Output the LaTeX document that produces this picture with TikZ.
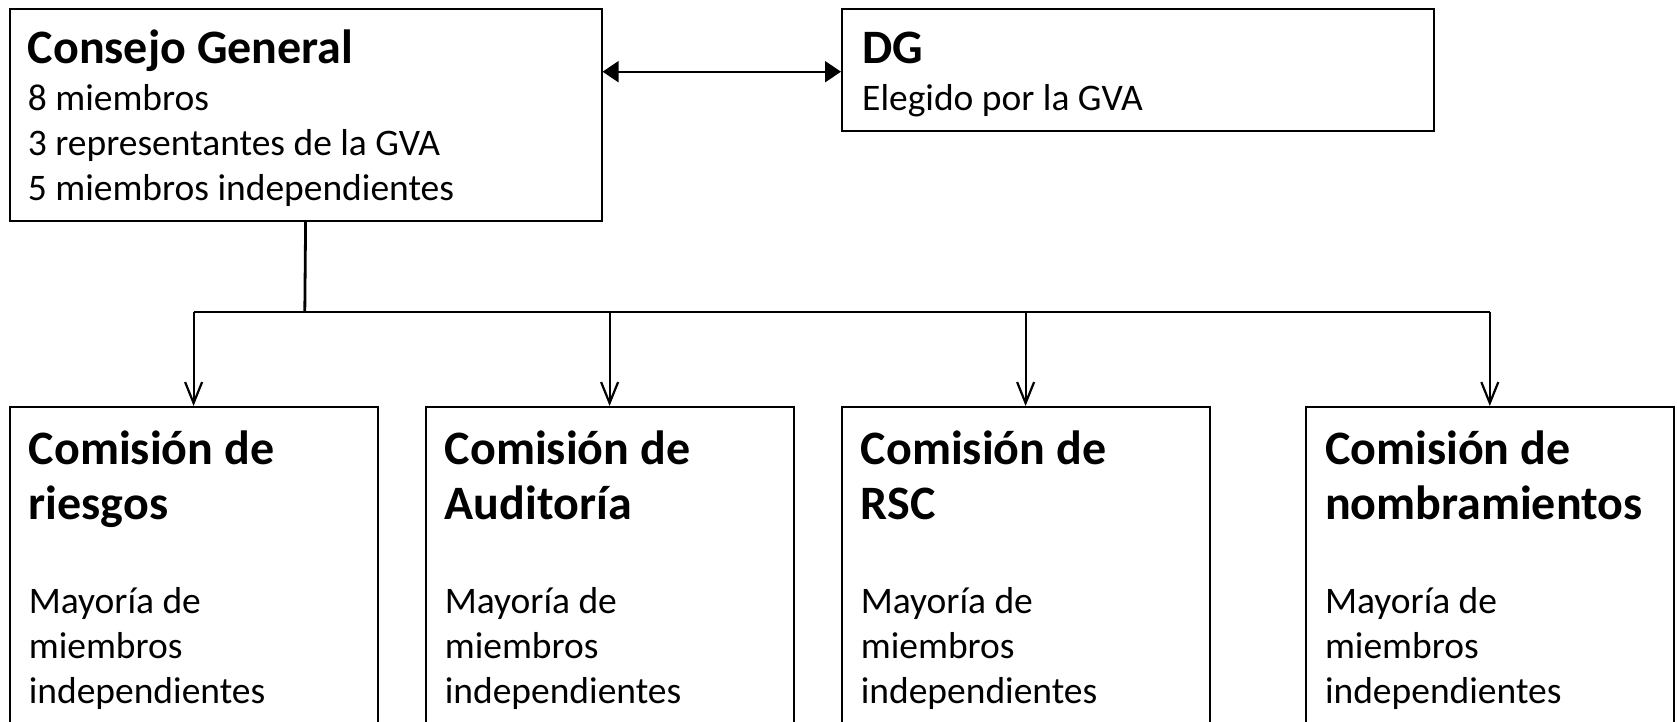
\documentclass[tikz,border=0pt]{standalone}
\usepackage{fontspec}
\setmainfont{Carlito}
\usetikzlibrary{arrows.meta}
\tikzset{
  box/.style={draw=black, line width=2pt, rectangle, inner sep=0pt, anchor=north west},
  ttl/.style={anchor=base west, inner sep=0pt, font=\fontsize{48}{55}\selectfont\bfseries},
  txt/.style={anchor=base west, inner sep=0pt, font=\fontsize{37.5}{45}\selectfont},
  dbl/.style={line width=2.2pt, {Triangle[length=16pt,width=21pt]}-{Triangle[length=16pt,width=21pt]}},
  trunk/.style={line width=2.8pt},
  drop/.style={line width=2.2pt, -{Straight Barb[length=21pt,width=17pt,line width=2.2pt]}},
}
\begin{document}
\begin{tikzpicture}[x=1pt,y=-1pt]
\useasboundingbox (0,0) rectangle (1677,721);
\clip (0,0) rectangle (1677,721);
% top boxes
\node[box, minimum width=592pt, minimum height=212pt] (cg) at (8.6,7.5) {};
\node[box, minimum width=592pt, minimum height=122pt] (dg) at (841,7.5) {};
% bottom boxes
\node[box, minimum width=368pt, minimum height=360pt] (c1) at (8.6,406) {};
\node[box, minimum width=368pt, minimum height=360pt] (c2) at (424.6,406) {};
\node[box, minimum width=368pt, minimum height=360pt] (c3) at (840.6,406) {};
\node[box, minimum width=368pt, minimum height=360pt] (c4) at (1304.8,406) {};
% texts Consejo
\node[ttl] (cgt) at ([shift={(19,56)}]cg.north west) {Consejo General};
\node[txt] (cg1) at ([shift={(19,103)}]cg.north west) {8 miembros};
\node[txt] (cg2) at ([shift={(19,148)}]cg.north west) {3 representantes de la GVA};
\node[txt] (cg3) at ([shift={(19,193)}]cg.north west) {5 miembros independientes};
% texts DG
\node[ttl] (dgt) at ([shift={(21,56)}]dg.north west) {DG};
\node[txt] (dg1) at ([shift={(21,103)}]dg.north west) {Elegido por la GVA};
% texts comisiones
\foreach \b/\s in {c1/riesgos, c2/Auditoría, c3/RSC, c4/nombramientos}{
  \node[ttl] (\b t1) at ([shift={(20,58)}]\b.north west) {Comisión de};
  \node[ttl] (\b t2) at ([shift={(20,113)}]\b.north west) {\s};
  \node[txt] (\b l1) at ([shift={(20,207)}]\b.north west) {Mayoría de};
  \node[txt] (\b l2) at ([shift={(20,252)}]\b.north west) {miembros};
  \node[txt] (\b l3) at ([shift={(20,297)}]\b.north west) {independientes};
}
% connectors
\coordinate (ay) at (720,71.7);
\draw[dbl] (cg.east |- ay) -- (dg.west |- ay);
\coordinate (split) at (304.8,312);
\draw[trunk] (cg.south) -- (split);
\draw[trunk] (split -| c1.north) -- (split -| c4.north);
\foreach \b in {c1,c2,c3,c4}{
  \draw[drop] (split -| \b.north) -- (\b.north);
}
\end{tikzpicture}
\end{document}
